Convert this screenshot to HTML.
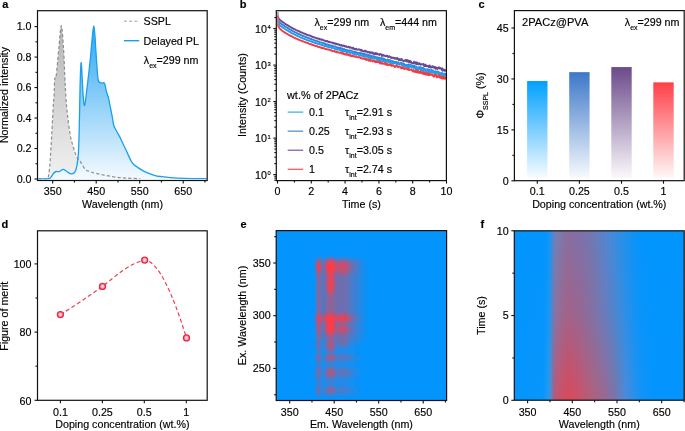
<!DOCTYPE html>
<html><head><meta charset="utf-8"><title>Figure</title>
<style>
html,body{margin:0;padding:0;background:#fff;width:685px;height:431px;overflow:hidden;}
svg{display:block;will-change:transform;font-family:"Liberation Sans", sans-serif;fill:#111;}
text{fill:#000;stroke:#000;stroke-width:0.16px;}
</style></head><body>
<svg width="685" height="431" viewBox="0 0 685 431">
<defs>
<linearGradient id="gGray" x1="0" y1="0" x2="0" y2="1"><stop offset="0" stop-color="#b4b4b4"/><stop offset="1" stop-color="#f2f2f2"/></linearGradient>
<linearGradient id="gBlue" x1="0" y1="0" x2="0" y2="1"><stop offset="0" stop-color="#2aa6f2"/><stop offset="1" stop-color="#f4faff"/></linearGradient>
<clipPath id="clipA"><rect x="38" y="11" width="169" height="168.5"/></clipPath>
</defs>
<g clip-path="url(#clipA)">
<path d="M38.20,179.00 C39.17,179.00 42.48,179.07 44.00,179.00 C45.52,178.93 46.52,179.27 47.30,178.60 C48.08,177.93 48.23,177.82 48.70,175.00 C49.17,172.18 49.60,168.30 50.10,161.70 C50.60,155.10 51.17,144.85 51.70,135.40 C52.23,125.95 52.90,111.73 53.30,105.00 C53.70,98.27 53.88,99.17 54.10,95.00 C54.32,90.83 54.38,82.92 54.60,80.00 C54.82,77.08 55.12,78.33 55.40,77.50 C55.68,76.67 55.72,79.95 56.30,75.00 C56.88,70.05 58.07,56.03 58.90,47.80 C59.73,39.57 60.53,25.60 61.30,25.60 C62.07,25.60 62.92,39.47 63.50,47.80 C64.08,56.13 64.40,67.40 64.80,75.60 C65.20,83.80 65.45,90.43 65.90,97.00 C66.35,103.57 66.77,108.60 67.50,115.00 C68.23,121.40 69.38,130.23 70.30,135.40 C71.22,140.57 72.15,142.97 73.00,146.00 C73.85,149.03 74.50,151.33 75.40,153.60 C76.30,155.87 77.43,158.07 78.40,159.60 C79.37,161.13 80.07,161.17 81.20,162.80 C82.33,164.43 83.73,167.93 85.20,169.40 C86.67,170.87 88.03,170.90 90.00,171.60 C91.97,172.30 94.40,172.97 97.00,173.60 C99.60,174.23 102.60,174.83 105.60,175.40 C108.60,175.97 111.60,176.55 115.00,177.00 C118.40,177.45 121.80,177.82 126.00,178.10 C130.20,178.38 137.83,178.60 140.20,178.70 L140.2,179 Z" fill="url(#gGray)" stroke="none"/>
<path d="M38.20,179.00 C40.02,178.93 46.95,178.97 49.10,178.60 C51.25,178.23 50.27,177.77 51.10,176.80 C51.93,175.83 53.25,173.68 54.10,172.80 C54.95,171.92 55.35,171.70 56.20,171.50 C57.05,171.30 58.03,171.97 59.20,171.60 C60.37,171.23 62.02,169.37 63.20,169.30 C64.38,169.23 65.12,170.48 66.30,171.20 C67.48,171.92 69.13,173.23 70.30,173.60 C71.47,173.97 72.45,173.83 73.30,173.40 C74.15,172.97 74.78,172.40 75.40,171.00 C76.02,169.60 76.50,167.90 77.00,165.00 C77.50,162.10 78.03,159.43 78.40,153.60 C78.77,147.77 78.93,140.60 79.20,130.00 C79.47,119.40 79.77,100.00 80.00,90.00 C80.23,80.00 80.38,74.53 80.60,70.00 C80.82,65.47 81.03,61.47 81.30,62.80 C81.57,64.13 81.88,72.47 82.20,78.00 C82.52,83.53 82.83,91.40 83.20,96.00 C83.57,100.60 84.00,104.93 84.40,105.60 C84.80,106.27 85.17,102.93 85.60,100.00 C86.03,97.07 86.47,92.50 87.00,88.00 C87.53,83.50 88.22,78.17 88.80,73.00 C89.38,67.83 89.88,63.33 90.50,57.00 C91.12,50.67 91.95,40.20 92.50,35.00 C93.05,29.80 93.40,25.80 93.80,25.80 C94.20,25.80 94.55,30.75 94.90,35.00 C95.25,39.25 95.52,45.47 95.90,51.30 C96.28,57.13 96.82,65.22 97.20,70.00 C97.58,74.78 97.73,77.90 98.20,80.00 C98.67,82.10 99.28,82.07 100.00,82.60 C100.72,83.13 101.83,83.17 102.50,83.20 C103.17,83.23 103.55,82.42 104.00,82.80 C104.45,83.18 104.78,83.97 105.20,85.50 C105.62,87.03 105.97,90.00 106.50,92.00 C107.03,94.00 107.73,94.83 108.40,97.50 C109.07,100.17 109.82,104.58 110.50,108.00 C111.18,111.42 111.97,115.12 112.50,118.00 C113.03,120.88 113.00,123.08 113.70,125.30 C114.40,127.52 115.65,129.28 116.70,131.30 C117.75,133.32 118.45,134.28 120.00,137.40 C121.55,140.52 123.98,145.80 126.00,150.00 C128.02,154.20 130.10,159.67 132.10,162.60 C134.10,165.53 135.98,166.15 138.00,167.60 C140.02,169.05 141.48,170.02 144.20,171.30 C146.92,172.58 151.33,174.40 154.30,175.30 C157.27,176.20 159.32,176.32 162.00,176.70 C164.68,177.08 166.57,177.33 170.40,177.60 C174.23,177.87 178.98,178.13 185.00,178.30 C191.02,178.47 202.92,178.55 206.50,178.60 L206.5,179 L38.2,179 Z" fill="url(#gBlue)" stroke="none"/>
<path d="M38.20,179.00 C39.17,179.00 42.48,179.07 44.00,179.00 C45.52,178.93 46.52,179.27 47.30,178.60 C48.08,177.93 48.23,177.82 48.70,175.00 C49.17,172.18 49.60,168.30 50.10,161.70 C50.60,155.10 51.17,144.85 51.70,135.40 C52.23,125.95 52.90,111.73 53.30,105.00 C53.70,98.27 53.88,99.17 54.10,95.00 C54.32,90.83 54.38,82.92 54.60,80.00 C54.82,77.08 55.12,78.33 55.40,77.50 C55.68,76.67 55.72,79.95 56.30,75.00 C56.88,70.05 58.07,56.03 58.90,47.80 C59.73,39.57 60.53,25.60 61.30,25.60 C62.07,25.60 62.92,39.47 63.50,47.80 C64.08,56.13 64.40,67.40 64.80,75.60 C65.20,83.80 65.45,90.43 65.90,97.00 C66.35,103.57 66.77,108.60 67.50,115.00 C68.23,121.40 69.38,130.23 70.30,135.40 C71.22,140.57 72.15,142.97 73.00,146.00 C73.85,149.03 74.50,151.33 75.40,153.60 C76.30,155.87 77.43,158.07 78.40,159.60 C79.37,161.13 80.07,161.17 81.20,162.80 C82.33,164.43 83.73,167.93 85.20,169.40 C86.67,170.87 88.03,170.90 90.00,171.60 C91.97,172.30 94.40,172.97 97.00,173.60 C99.60,174.23 102.60,174.83 105.60,175.40 C108.60,175.97 111.60,176.55 115.00,177.00 C118.40,177.45 121.80,177.82 126.00,178.10 C130.20,178.38 137.83,178.60 140.20,178.70" fill="none" stroke="#8e8e8e" stroke-width="1.2" stroke-dasharray="3.2,2.2"/>
<path d="M38.20,179.00 C40.02,178.93 46.95,178.97 49.10,178.60 C51.25,178.23 50.27,177.77 51.10,176.80 C51.93,175.83 53.25,173.68 54.10,172.80 C54.95,171.92 55.35,171.70 56.20,171.50 C57.05,171.30 58.03,171.97 59.20,171.60 C60.37,171.23 62.02,169.37 63.20,169.30 C64.38,169.23 65.12,170.48 66.30,171.20 C67.48,171.92 69.13,173.23 70.30,173.60 C71.47,173.97 72.45,173.83 73.30,173.40 C74.15,172.97 74.78,172.40 75.40,171.00 C76.02,169.60 76.50,167.90 77.00,165.00 C77.50,162.10 78.03,159.43 78.40,153.60 C78.77,147.77 78.93,140.60 79.20,130.00 C79.47,119.40 79.77,100.00 80.00,90.00 C80.23,80.00 80.38,74.53 80.60,70.00 C80.82,65.47 81.03,61.47 81.30,62.80 C81.57,64.13 81.88,72.47 82.20,78.00 C82.52,83.53 82.83,91.40 83.20,96.00 C83.57,100.60 84.00,104.93 84.40,105.60 C84.80,106.27 85.17,102.93 85.60,100.00 C86.03,97.07 86.47,92.50 87.00,88.00 C87.53,83.50 88.22,78.17 88.80,73.00 C89.38,67.83 89.88,63.33 90.50,57.00 C91.12,50.67 91.95,40.20 92.50,35.00 C93.05,29.80 93.40,25.80 93.80,25.80 C94.20,25.80 94.55,30.75 94.90,35.00 C95.25,39.25 95.52,45.47 95.90,51.30 C96.28,57.13 96.82,65.22 97.20,70.00 C97.58,74.78 97.73,77.90 98.20,80.00 C98.67,82.10 99.28,82.07 100.00,82.60 C100.72,83.13 101.83,83.17 102.50,83.20 C103.17,83.23 103.55,82.42 104.00,82.80 C104.45,83.18 104.78,83.97 105.20,85.50 C105.62,87.03 105.97,90.00 106.50,92.00 C107.03,94.00 107.73,94.83 108.40,97.50 C109.07,100.17 109.82,104.58 110.50,108.00 C111.18,111.42 111.97,115.12 112.50,118.00 C113.03,120.88 113.00,123.08 113.70,125.30 C114.40,127.52 115.65,129.28 116.70,131.30 C117.75,133.32 118.45,134.28 120.00,137.40 C121.55,140.52 123.98,145.80 126.00,150.00 C128.02,154.20 130.10,159.67 132.10,162.60 C134.10,165.53 135.98,166.15 138.00,167.60 C140.02,169.05 141.48,170.02 144.20,171.30 C146.92,172.58 151.33,174.40 154.30,175.30 C157.27,176.20 159.32,176.32 162.00,176.70 C164.68,177.08 166.57,177.33 170.40,177.60 C174.23,177.87 178.98,178.13 185.00,178.30 C191.02,178.47 202.92,178.55 206.50,178.60" fill="none" stroke="#18a0f0" stroke-width="1.3" stroke-linejoin="round"/>
</g>
<rect x="37.5" y="10.7" width="169.70" height="169.80" fill="none" stroke="#111" stroke-width="1.2"/>
<line x1="34.50" y1="179.00" x2="37.50" y2="179.00" stroke="#111" stroke-width="1.1"/>
<line x1="34.50" y1="148.52" x2="37.50" y2="148.52" stroke="#111" stroke-width="1.1"/>
<line x1="34.50" y1="118.04" x2="37.50" y2="118.04" stroke="#111" stroke-width="1.1"/>
<line x1="34.50" y1="87.56" x2="37.50" y2="87.56" stroke="#111" stroke-width="1.1"/>
<line x1="34.50" y1="57.08" x2="37.50" y2="57.08" stroke="#111" stroke-width="1.1"/>
<line x1="34.50" y1="26.60" x2="37.50" y2="26.60" stroke="#111" stroke-width="1.1"/>
<line x1="35.50" y1="163.76" x2="37.50" y2="163.76" stroke="#111" stroke-width="1.1"/>
<line x1="35.50" y1="133.28" x2="37.50" y2="133.28" stroke="#111" stroke-width="1.1"/>
<line x1="35.50" y1="102.80" x2="37.50" y2="102.80" stroke="#111" stroke-width="1.1"/>
<line x1="35.50" y1="72.32" x2="37.50" y2="72.32" stroke="#111" stroke-width="1.1"/>
<line x1="35.50" y1="41.84" x2="37.50" y2="41.84" stroke="#111" stroke-width="1.1"/>
<line x1="52.70" y1="180.50" x2="52.70" y2="183.50" stroke="#111" stroke-width="1.1"/>
<line x1="96.20" y1="180.50" x2="96.20" y2="183.50" stroke="#111" stroke-width="1.1"/>
<line x1="139.70" y1="180.50" x2="139.70" y2="183.50" stroke="#111" stroke-width="1.1"/>
<line x1="183.20" y1="180.50" x2="183.20" y2="183.50" stroke="#111" stroke-width="1.1"/>
<line x1="74.45" y1="180.50" x2="74.45" y2="182.50" stroke="#111" stroke-width="1.1"/>
<line x1="117.95" y1="180.50" x2="117.95" y2="182.50" stroke="#111" stroke-width="1.1"/>
<line x1="161.45" y1="180.50" x2="161.45" y2="182.50" stroke="#111" stroke-width="1.1"/>
<line x1="204.95" y1="180.50" x2="204.95" y2="182.50" stroke="#111" stroke-width="1.1"/>
<text x="31.50" y="182.70" font-size="10.7" text-anchor="end" >0.0</text>
<text x="31.50" y="152.22" font-size="10.7" text-anchor="end" >0.2</text>
<text x="31.50" y="121.74" font-size="10.7" text-anchor="end" >0.4</text>
<text x="31.50" y="91.26" font-size="10.7" text-anchor="end" >0.6</text>
<text x="31.50" y="60.78" font-size="10.7" text-anchor="end" >0.8</text>
<text x="31.50" y="30.30" font-size="10.7" text-anchor="end" >1.0</text>
<text x="52.70" y="195.10" font-size="10.7" text-anchor="middle" >350</text>
<text x="96.20" y="195.10" font-size="10.7" text-anchor="middle" >450</text>
<text x="139.70" y="195.10" font-size="10.7" text-anchor="middle" >550</text>
<text x="183.20" y="195.10" font-size="10.7" text-anchor="middle" >650</text>
<text x="122.50" y="208.20" font-size="10.7" text-anchor="middle" >Wavelength (nm)</text>
<text transform="translate(7.70,95.00) rotate(-90)" font-size="10.7" text-anchor="middle">Normalized intensity</text>
<line x1="123.9" y1="21.2" x2="139" y2="21.2" stroke="#a0a0a0" stroke-width="1.0" stroke-dasharray="3,2.2"/>
<text x="143.60" y="25.20" font-size="10.7" text-anchor="start" >SSPL</text>
<line x1="123.9" y1="40.7" x2="139.2" y2="40.7" stroke="#18a0f0" stroke-width="1.4"/>
<text x="143.60" y="44.70" font-size="10.7" text-anchor="start" >Delayed PL</text>
<text x="143.8" y="64" font-size="10.7">λ<tspan font-size="7" dy="3.6">ex</tspan><tspan dy="-3.6">=299 nm</tspan></text>
<text x="2.3" y="8" font-size="11" font-weight="bold">a</text>
<clipPath id="clipB"><rect x="277" y="11.3" width="169" height="168"/></clipPath>
<g clip-path="url(#clipB)">
<path d="M278.00,16.20 L278.15,17.30 L278.35,17.90 L278.60,18.14 L278.80,18.88 L279.00,19.11 L279.20,19.35 L279.40,19.52 L279.60,19.55 L279.80,19.70 L280.00,20.05 L280.20,20.07 L280.40,20.22 L280.60,20.56 L280.80,20.59 L281.00,20.83 L281.20,20.89 L281.40,21.08 L281.60,21.12 L281.80,21.38 L282.00,21.59 L282.20,21.65 L282.40,21.85 L282.60,21.98 L282.80,21.98 L283.00,22.29 L283.20,22.39 L283.40,22.46 L283.60,22.54 L283.80,22.88 L284.00,22.92 L284.20,23.12 L284.40,23.29 L284.60,23.39 L284.80,23.57 L285.00,23.58 L285.20,23.81 L285.65,24.03 L286.10,24.44 L286.55,24.71 L287.00,24.81 L287.45,25.10 L287.90,25.40 L288.35,25.86 L288.80,26.00 L289.25,26.31 L289.70,26.50 L290.15,26.81 L290.60,27.04 L291.05,27.28 L291.50,27.59 L291.95,27.84 L292.40,28.16 L292.85,28.35 L293.30,28.65 L293.75,28.87 L294.20,29.13 L294.65,29.29 L295.10,29.39 L295.55,29.78 L296.00,30.03 L296.45,30.24 L296.90,30.38 L297.35,30.63 L297.80,30.72 L298.25,31.08 L298.70,31.22 L299.15,31.36 L299.60,31.51 L300.05,31.90 L300.50,32.14 L300.95,32.11 L301.40,32.49 L301.85,32.58 L302.30,32.70 L302.75,32.93 L303.20,33.26 L303.65,33.48 L304.10,33.41 L304.55,33.77 L305.00,33.77 L305.45,34.17 L305.90,34.21 L306.35,34.58 L306.80,34.79 L307.25,34.80 L307.70,35.15 L308.15,35.07 L308.60,35.15 L309.05,35.52 L309.50,35.46 L309.95,35.69 L310.40,35.94 L310.85,36.18 L311.30,36.15 L311.75,36.26 L312.20,36.78 L312.65,36.69 L313.10,37.15 L313.55,37.28 L314.00,37.18 L314.45,37.38 L314.90,37.56 L315.35,37.77 L315.80,37.90 L316.25,38.03 L316.70,38.21 L317.15,38.53 L317.60,38.45 L318.05,38.55 L318.50,38.86 L318.95,38.73 L319.40,38.91 L319.85,39.44 L320.30,39.32 L320.75,39.48 L321.20,39.29 L321.65,39.67 L322.10,39.91 L322.55,39.70 L323.00,40.21 L323.45,40.36 L323.90,40.13 L324.35,40.63 L324.80,40.66 L325.25,40.94 L325.70,40.85 L326.15,41.22 L326.60,41.38 L327.05,41.01 L327.50,41.16 L327.95,41.73 L328.40,42.07 L328.85,41.68 L329.30,41.96 L329.75,42.19 L330.20,42.11 L330.65,42.27 L331.10,42.36 L331.55,42.53 L332.00,42.83 L332.45,42.72 L332.90,42.90 L333.35,43.35 L333.80,42.86 L334.25,43.43 L334.70,43.69 L335.15,43.46 L335.60,43.51 L336.05,44.13 L336.50,43.76 L336.95,43.83 L337.40,44.17 L337.85,44.52 L338.30,44.11 L338.75,44.43 L339.20,44.56 L339.65,45.13 L340.10,44.89 L340.55,45.40 L341.00,44.87 L341.45,45.15 L341.90,45.56 L342.35,45.91 L342.80,45.61 L343.25,45.50 L343.70,45.51 L344.15,46.03 L344.60,45.81 L345.05,46.54 L345.50,46.69 L345.95,46.14 L346.40,46.35 L346.85,47.02 L347.30,46.96 L347.75,47.25 L348.20,46.87 L348.65,46.75 L349.10,47.04 L349.55,47.70 L350.00,47.24 L350.45,47.44 L350.90,47.63 L351.35,47.74 L351.80,47.84 L352.25,48.53 L352.70,47.78 L353.15,47.71 L353.60,48.91 L354.05,48.95 L354.50,49.19 L354.95,48.65 L355.40,49.37 L355.85,49.46 L356.30,48.73 L356.75,49.47 L357.20,49.69 L357.65,49.59 L358.10,49.53 L358.55,49.35 L359.00,49.52 L359.45,49.49 L359.90,49.40 L360.35,50.17 L360.80,49.89 L361.25,50.67 L361.70,49.79 L362.15,51.02 L362.60,50.86 L363.05,51.27 L363.50,51.35 L363.95,51.46 L364.40,51.14 L364.85,50.49 L365.30,51.59 L365.75,50.91 L366.20,51.20 L366.65,51.80 L367.10,51.72 L367.55,51.68 L368.00,52.52 L368.45,52.17 L368.90,51.89 L369.35,51.87 L369.80,52.86 L370.25,52.41 L370.70,52.96 L371.15,52.44 L371.60,52.32 L372.05,52.92 L372.50,53.45 L372.95,52.60 L373.40,53.63 L373.85,53.94 L374.30,53.87 L374.75,54.01 L375.20,52.87 L375.65,53.93 L376.10,54.40 L376.55,53.25 L377.00,53.69 L377.45,53.79 L377.90,54.31 L378.35,54.25 L378.80,54.43 L379.25,55.03 L379.70,53.89 L380.15,54.08 L380.60,54.30 L381.05,54.40 L381.50,54.41 L381.95,56.00 L382.40,55.91 L382.85,54.75 L383.30,55.54 L383.75,55.34 L384.20,55.44 L384.65,55.61 L385.10,56.21 L385.55,56.22 L386.00,55.94 L386.45,55.75 L386.90,56.09 L387.35,55.84 L387.80,56.70 L388.25,57.08 L388.70,56.60 L389.15,56.17 L389.60,56.45 L390.05,56.90 L390.50,57.42 L390.95,57.85 L391.40,57.23 L391.85,58.10 L392.30,57.88 L392.75,57.64 L393.20,57.63 L393.65,57.96 L394.10,58.45 L394.55,58.03 L395.00,58.65 L395.45,58.32 L395.90,58.02 L396.35,58.67 L396.80,59.08 L397.25,58.00 L397.70,58.77 L398.15,58.88 L398.60,59.86 L399.05,60.08 L399.50,59.09 L399.95,60.22 L400.40,60.12 L400.85,59.19 L401.30,59.69 L401.75,59.12 L402.20,60.59 L402.65,60.40 L403.10,60.96 L403.55,60.87 L404.00,60.73 L404.45,60.97 L404.90,60.73 L405.35,59.89 L405.80,60.99 L406.25,59.89 L406.70,60.28 L407.15,61.69 L407.60,60.28 L408.05,60.48 L408.50,60.60 L408.95,62.34 L409.40,60.97 L409.85,60.74 L410.30,62.58 L410.75,61.15 L411.20,62.80 L411.65,62.54 L412.10,63.00 L412.55,63.36 L413.00,62.66 L413.45,63.24 L413.90,61.68 L414.35,63.39 L414.80,62.93 L415.25,63.48 L415.70,62.24 L416.15,63.77 L416.60,64.29 L417.05,62.44 L417.50,63.13 L417.95,63.78 L418.40,64.48 L418.85,63.26 L419.30,63.22 L419.75,63.48 L420.20,64.42 L420.65,64.85 L421.10,64.12 L421.55,64.16 L422.00,64.34 L422.45,64.33 L422.90,64.59 L423.35,63.91 L423.80,64.99 L424.25,66.22 L424.70,65.00 L425.15,65.90 L425.60,64.60 L426.05,65.97 L426.50,66.24 L426.95,66.15 L427.40,65.87 L427.85,65.89 L428.30,66.39 L428.75,67.12 L429.20,65.39 L429.65,65.36 L430.10,67.07 L430.55,67.59 L431.00,66.71 L431.45,66.63 L431.90,67.42 L432.35,66.19 L432.80,66.50 L433.25,66.43 L433.70,67.51 L434.15,66.93 L434.60,66.82 L435.05,68.09 L435.50,68.87 L435.95,67.29 L436.40,68.45 L436.85,67.80 L437.30,69.04 L437.75,68.45 L438.20,67.73 L438.65,67.70 L439.10,67.29 L439.55,68.59 L440.00,68.44 L440.45,67.99 L440.90,68.59 L441.35,68.59 L441.80,69.90 L442.25,68.32 L442.70,70.70 L443.15,69.43 L443.60,69.85 L444.05,69.61 L444.50,70.70 L444.95,70.77 L445.40,70.16 L445.85,70.06 L446.30,70.81 L446.75,71.28" fill="none" stroke="#6b4a95" stroke-width="1.9" stroke-linejoin="round" stroke-linecap="round"/>
<path d="M278.00,19.50 L278.15,20.60 L278.35,21.20 L278.60,21.48 L278.80,21.82 L279.00,22.07 L279.20,22.12 L279.40,22.22 L279.60,22.38 L279.80,22.66 L280.00,22.80 L280.20,23.03 L280.40,23.15 L280.60,23.16 L280.80,23.30 L281.00,23.47 L281.20,23.60 L281.40,23.87 L281.60,24.06 L281.80,24.22 L282.00,24.21 L282.20,24.50 L282.40,24.51 L282.60,24.68 L282.80,24.90 L283.00,24.89 L283.20,25.03 L283.40,25.35 L283.60,25.36 L283.80,25.51 L284.00,25.70 L284.20,25.86 L284.40,25.84 L284.60,26.05 L284.80,26.21 L285.00,26.36 L285.20,26.43 L285.65,26.81 L286.10,27.19 L286.55,27.35 L287.00,27.67 L287.45,27.85 L287.90,28.16 L288.35,28.53 L288.80,28.67 L289.25,29.12 L289.70,29.39 L290.15,29.46 L290.60,29.92 L291.05,30.04 L291.50,30.39 L291.95,30.63 L292.40,30.77 L292.85,31.10 L293.30,31.34 L293.75,31.61 L294.20,31.72 L294.65,32.07 L295.10,32.35 L295.55,32.51 L296.00,32.70 L296.45,32.82 L296.90,33.13 L297.35,33.32 L297.80,33.62 L298.25,33.83 L298.70,34.01 L299.15,34.13 L299.60,34.45 L300.05,34.65 L300.50,34.74 L300.95,35.12 L301.40,35.26 L301.85,35.32 L302.30,35.74 L302.75,35.71 L303.20,35.95 L303.65,36.26 L304.10,36.41 L304.55,36.59 L305.00,36.80 L305.45,36.92 L305.90,37.06 L306.35,37.19 L306.80,37.33 L307.25,37.74 L307.70,37.93 L308.15,38.03 L308.60,38.28 L309.05,38.30 L309.50,38.43 L309.95,38.65 L310.40,39.02 L310.85,38.84 L311.30,39.20 L311.75,39.25 L312.20,39.65 L312.65,39.63 L313.10,39.78 L313.55,39.97 L314.00,40.19 L314.45,40.47 L314.90,40.42 L315.35,40.82 L315.80,40.60 L316.25,40.84 L316.70,40.90 L317.15,41.06 L317.60,41.57 L318.05,41.69 L318.50,41.54 L318.95,41.69 L319.40,41.97 L319.85,42.30 L320.30,42.49 L320.75,42.60 L321.20,42.66 L321.65,42.53 L322.10,42.83 L322.55,42.84 L323.00,43.19 L323.45,43.36 L323.90,43.26 L324.35,43.43 L324.80,43.92 L325.25,43.56 L325.70,44.22 L326.15,44.42 L326.60,44.60 L327.05,44.34 L327.50,44.60 L327.95,44.76 L328.40,44.93 L328.85,45.32 L329.30,45.24 L329.75,45.08 L330.20,45.64 L330.65,45.49 L331.10,45.71 L331.55,45.94 L332.00,45.50 L332.45,46.24 L332.90,46.28 L333.35,46.28 L333.80,46.43 L334.25,46.51 L334.70,46.41 L335.15,46.82 L335.60,46.53 L336.05,47.05 L336.50,47.31 L336.95,47.26 L337.40,47.49 L337.85,47.97 L338.30,48.03 L338.75,47.48 L339.20,48.20 L339.65,48.17 L340.10,47.76 L340.55,48.17 L341.00,48.18 L341.45,48.15 L341.90,48.71 L342.35,49.21 L342.80,48.75 L343.25,49.40 L343.70,49.36 L344.15,48.92 L344.60,49.77 L345.05,49.63 L345.50,50.08 L345.95,49.99 L346.40,50.14 L346.85,49.84 L347.30,50.45 L347.75,50.70 L348.20,50.75 L348.65,50.42 L349.10,50.88 L349.55,50.71 L350.00,50.41 L350.45,50.45 L350.90,50.61 L351.35,50.86 L351.80,50.93 L352.25,51.43 L352.70,51.78 L353.15,51.71 L353.60,51.69 L354.05,52.07 L354.50,51.79 L354.95,52.09 L355.40,52.55 L355.85,52.25 L356.30,52.10 L356.75,53.08 L357.20,52.98 L357.65,52.67 L358.10,52.78 L358.55,53.10 L359.00,53.30 L359.45,52.94 L359.90,52.77 L360.35,53.15 L360.80,54.00 L361.25,53.29 L361.70,53.81 L362.15,53.58 L362.60,53.71 L363.05,53.77 L363.50,54.19 L363.95,53.99 L364.40,53.91 L364.85,54.13 L365.30,54.32 L365.75,54.88 L366.20,54.40 L366.65,54.45 L367.10,55.16 L367.55,55.21 L368.00,55.74 L368.45,54.93 L368.90,55.54 L369.35,55.65 L369.80,55.23 L370.25,56.69 L370.70,55.72 L371.15,55.65 L371.60,56.32 L372.05,55.97 L372.50,56.76 L372.95,56.46 L373.40,56.24 L373.85,56.24 L374.30,57.37 L374.75,56.80 L375.20,57.69 L375.65,57.31 L376.10,58.15 L376.55,57.28 L377.00,57.31 L377.45,57.44 L377.90,58.42 L378.35,58.24 L378.80,57.90 L379.25,57.61 L379.70,58.66 L380.15,59.24 L380.60,58.74 L381.05,57.89 L381.50,58.04 L381.95,58.25 L382.40,58.49 L382.85,58.38 L383.30,58.51 L383.75,59.63 L384.20,60.15 L384.65,59.08 L385.10,60.51 L385.55,59.77 L386.00,60.44 L386.45,60.75 L386.90,60.90 L387.35,59.44 L387.80,60.02 L388.25,60.66 L388.70,61.37 L389.15,59.97 L389.60,60.44 L390.05,61.54 L390.50,60.34 L390.95,60.94 L391.40,60.95 L391.85,61.68 L392.30,62.25 L392.75,60.98 L393.20,62.13 L393.65,62.23 L394.10,62.53 L394.55,62.12 L395.00,62.92 L395.45,61.98 L395.90,62.19 L396.35,61.95 L396.80,63.10 L397.25,62.64 L397.70,62.35 L398.15,62.26 L398.60,63.43 L399.05,63.32 L399.50,63.64 L399.95,63.12 L400.40,63.42 L400.85,62.88 L401.30,64.08 L401.75,62.83 L402.20,63.82 L402.65,64.51 L403.10,64.46 L403.55,63.40 L404.00,63.79 L404.45,65.13 L404.90,64.84 L405.35,65.43 L405.80,65.53 L406.25,64.77 L406.70,65.80 L407.15,65.58 L407.60,64.86 L408.05,65.04 L408.50,64.52 L408.95,65.32 L409.40,66.60 L409.85,64.91 L410.30,66.01 L410.75,65.14 L411.20,65.18 L411.65,66.51 L412.10,65.74 L412.55,65.43 L413.00,65.76 L413.45,66.94 L413.90,66.92 L414.35,65.77 L414.80,66.36 L415.25,68.10 L415.70,66.55 L416.15,67.42 L416.60,67.21 L417.05,68.13 L417.50,67.84 L417.95,68.37 L418.40,67.91 L418.85,67.23 L419.30,67.31 L419.75,67.19 L420.20,69.01 L420.65,67.48 L421.10,67.38 L421.55,69.68 L422.00,68.00 L422.45,69.73 L422.90,67.95 L423.35,68.95 L423.80,68.48 L424.25,70.03 L424.70,69.63 L425.15,69.80 L425.60,70.20 L426.05,70.58 L426.50,69.42 L426.95,70.15 L427.40,69.88 L427.85,69.17 L428.30,71.05 L428.75,70.57 L429.20,71.22 L429.65,69.83 L430.10,70.76 L430.55,70.69 L431.00,71.45 L431.45,69.94 L431.90,70.72 L432.35,71.17 L432.80,70.24 L433.25,71.56 L433.70,72.13 L434.15,71.45 L434.60,72.14 L435.05,72.14 L435.50,71.24 L435.95,71.70 L436.40,73.47 L436.85,71.88 L437.30,72.23 L437.75,71.44 L438.20,71.89 L438.65,71.86 L439.10,73.98 L439.55,73.55 L440.00,74.05 L440.45,74.46 L440.90,73.58 L441.35,74.54 L441.80,73.60 L442.25,73.39 L442.70,74.92 L443.15,74.91 L443.60,75.15 L444.05,74.00 L444.50,74.89 L444.95,74.01 L445.40,75.72 L445.85,75.62 L446.30,74.03 L446.75,75.87" fill="none" stroke="#3c7fd0" stroke-width="1.9" stroke-linejoin="round" stroke-linecap="round"/>
<path d="M278.00,21.50 L278.15,22.60 L278.35,23.20 L278.60,23.42 L278.80,24.22 L279.00,24.65 L279.20,24.73 L279.40,24.95 L279.60,25.14 L279.80,25.15 L280.00,25.48 L280.20,25.52 L280.40,25.71 L280.60,25.85 L280.80,26.10 L281.00,26.25 L281.20,26.29 L281.40,26.39 L281.60,26.59 L281.80,26.76 L282.00,26.83 L282.20,27.00 L282.40,27.29 L282.60,27.42 L282.80,27.62 L283.00,27.77 L283.20,27.88 L283.40,27.90 L283.60,27.99 L283.80,28.17 L284.00,28.34 L284.20,28.49 L284.40,28.63 L284.60,28.72 L284.80,28.97 L285.00,28.97 L285.20,29.15 L285.65,29.54 L286.10,29.81 L286.55,29.98 L287.00,30.25 L287.45,30.66 L287.90,30.75 L288.35,31.05 L288.80,31.41 L289.25,31.67 L289.70,31.85 L290.15,32.08 L290.60,32.37 L291.05,32.75 L291.50,32.93 L291.95,33.30 L292.40,33.49 L292.85,33.77 L293.30,33.78 L293.75,34.05 L294.20,34.24 L294.65,34.57 L295.10,34.77 L295.55,34.92 L296.00,35.26 L296.45,35.37 L296.90,35.64 L297.35,35.83 L297.80,36.18 L298.25,36.29 L298.70,36.46 L299.15,36.61 L299.60,36.90 L300.05,37.15 L300.50,37.36 L300.95,37.61 L301.40,37.78 L301.85,37.82 L302.30,37.98 L302.75,38.34 L303.20,38.54 L303.65,38.64 L304.10,38.92 L304.55,39.01 L305.00,39.10 L305.45,39.24 L305.90,39.36 L306.35,39.75 L306.80,40.02 L307.25,40.19 L307.70,40.20 L308.15,40.45 L308.60,40.71 L309.05,40.84 L309.50,40.92 L309.95,41.00 L310.40,41.21 L310.85,41.22 L311.30,41.38 L311.75,41.76 L312.20,42.05 L312.65,42.01 L313.10,42.10 L313.55,42.23 L314.00,42.43 L314.45,42.75 L314.90,42.73 L315.35,43.13 L315.80,42.87 L316.25,43.10 L316.70,43.35 L317.15,43.44 L317.60,43.82 L318.05,43.95 L318.50,44.16 L318.95,44.12 L319.40,43.93 L319.85,44.38 L320.30,44.51 L320.75,44.61 L321.20,44.62 L321.65,45.02 L322.10,45.28 L322.55,44.91 L323.00,45.40 L323.45,45.35 L323.90,45.58 L324.35,45.96 L324.80,46.14 L325.25,46.06 L325.70,45.89 L326.15,46.51 L326.60,46.13 L327.05,46.40 L327.50,46.85 L327.95,46.61 L328.40,46.70 L328.85,47.33 L329.30,47.45 L329.75,47.11 L330.20,47.29 L330.65,47.33 L331.10,47.34 L331.55,47.56 L332.00,48.25 L332.45,47.66 L332.90,47.90 L333.35,48.00 L333.80,48.02 L334.25,48.51 L334.70,48.81 L335.15,49.02 L335.60,48.96 L336.05,49.24 L336.50,48.66 L336.95,49.02 L337.40,49.74 L337.85,49.07 L338.30,49.36 L338.75,49.67 L339.20,49.59 L339.65,49.97 L340.10,49.62 L340.55,49.91 L341.00,50.71 L341.45,50.05 L341.90,50.90 L342.35,50.31 L342.80,51.22 L343.25,51.03 L343.70,51.12 L344.15,50.73 L344.60,50.75 L345.05,51.58 L345.50,51.10 L345.95,51.22 L346.40,51.99 L346.85,52.16 L347.30,51.41 L347.75,52.49 L348.20,52.15 L348.65,52.10 L349.10,51.91 L349.55,52.33 L350.00,53.10 L350.45,52.43 L350.90,52.38 L351.35,52.50 L351.80,52.59 L352.25,52.95 L352.70,53.71 L353.15,52.86 L353.60,53.10 L354.05,54.08 L354.50,54.26 L354.95,54.35 L355.40,53.59 L355.85,53.83 L356.30,54.66 L356.75,54.21 L357.20,54.58 L357.65,54.22 L358.10,53.96 L358.55,54.47 L359.00,55.09 L359.45,55.24 L359.90,55.08 L360.35,55.06 L360.80,55.26 L361.25,55.25 L361.70,55.47 L362.15,55.97 L362.60,55.25 L363.05,55.88 L363.50,56.44 L363.95,56.44 L364.40,55.65 L364.85,56.81 L365.30,56.76 L365.75,55.95 L366.20,56.19 L366.65,56.21 L367.10,56.10 L367.55,57.50 L368.00,56.81 L368.45,57.57 L368.90,56.61 L369.35,56.57 L369.80,57.90 L370.25,57.90 L370.70,58.30 L371.15,57.96 L371.60,57.83 L372.05,58.30 L372.50,57.41 L372.95,58.18 L373.40,58.14 L373.85,57.80 L374.30,58.59 L374.75,58.28 L375.20,58.66 L375.65,58.56 L376.10,58.58 L376.55,58.75 L377.00,59.23 L377.45,59.94 L377.90,59.98 L378.35,59.97 L378.80,60.03 L379.25,59.27 L379.70,60.48 L380.15,59.45 L380.60,59.31 L381.05,60.03 L381.50,60.52 L381.95,59.98 L382.40,60.59 L382.85,60.09 L383.30,61.34 L383.75,60.58 L384.20,60.73 L384.65,60.93 L385.10,61.62 L385.55,61.92 L386.00,61.24 L386.45,61.20 L386.90,61.61 L387.35,60.76 L387.80,61.48 L388.25,62.33 L388.70,62.31 L389.15,61.15 L389.60,62.66 L390.05,61.93 L390.50,63.11 L390.95,62.11 L391.40,61.94 L391.85,62.65 L392.30,63.36 L392.75,62.64 L393.20,63.55 L393.65,63.37 L394.10,62.83 L394.55,62.82 L395.00,63.30 L395.45,63.21 L395.90,63.26 L396.35,63.90 L396.80,64.43 L397.25,63.98 L397.70,63.25 L398.15,63.49 L398.60,63.88 L399.05,64.46 L399.50,63.64 L399.95,63.63 L400.40,64.20 L400.85,64.23 L401.30,63.83 L401.75,64.94 L402.20,65.81 L402.65,65.14 L403.10,65.66 L403.55,65.95 L404.00,66.07 L404.45,66.33 L404.90,65.48 L405.35,66.08 L405.80,65.03 L406.25,66.69 L406.70,65.76 L407.15,66.07 L407.60,67.04 L408.05,65.88 L408.50,65.78 L408.95,67.22 L409.40,66.85 L409.85,65.87 L410.30,65.85 L410.75,66.64 L411.20,66.00 L411.65,67.88 L412.10,66.59 L412.55,66.88 L413.00,67.24 L413.45,67.61 L413.90,67.54 L414.35,68.07 L414.80,68.25 L415.25,67.86 L415.70,67.21 L416.15,69.28 L416.60,68.74 L417.05,67.48 L417.50,68.39 L417.95,69.20 L418.40,69.85 L418.85,67.85 L419.30,67.82 L419.75,69.00 L420.20,68.97 L420.65,70.16 L421.10,70.11 L421.55,69.07 L422.00,69.37 L422.45,69.86 L422.90,70.67 L423.35,69.17 L423.80,69.72 L424.25,69.11 L424.70,70.52 L425.15,69.16 L425.60,71.44 L426.05,70.56 L426.50,70.78 L426.95,69.71 L427.40,70.16 L427.85,70.84 L428.30,71.89 L428.75,71.22 L429.20,70.70 L429.65,72.52 L430.10,71.84 L430.55,71.61 L431.00,70.91 L431.45,71.25 L431.90,72.86 L432.35,71.04 L432.80,72.14 L433.25,72.47 L433.70,71.90 L434.15,73.06 L434.60,73.52 L435.05,73.50 L435.50,73.30 L435.95,72.03 L436.40,71.76 L436.85,72.83 L437.30,72.62 L437.75,72.41 L438.20,74.28 L438.65,72.67 L439.10,74.37 L439.55,74.78 L440.00,72.73 L440.45,74.93 L440.90,73.66 L441.35,73.27 L441.80,73.31 L442.25,73.01 L442.70,74.35 L443.15,74.15 L443.60,75.51 L444.05,75.56 L444.50,73.57 L444.95,74.61 L445.40,74.68 L445.85,74.21 L446.30,74.51 L446.75,74.65" fill="none" stroke="#1f9ff0" stroke-width="1.9" stroke-linejoin="round" stroke-linecap="round"/>
<path d="M278.00,24.61 L278.15,25.71 L278.35,26.31 L278.60,26.65 L278.80,26.94 L279.00,27.23 L279.20,27.57 L279.40,27.91 L279.60,28.21 L279.80,28.38 L280.00,28.73 L280.20,28.83 L280.40,29.15 L280.60,29.34 L280.80,29.43 L281.00,29.75 L281.20,29.84 L281.40,30.05 L281.60,30.23 L281.80,30.40 L282.00,30.51 L282.20,30.57 L282.40,30.90 L282.60,31.06 L282.80,31.12 L283.00,31.28 L283.20,31.35 L283.40,31.64 L283.60,31.72 L283.80,31.74 L284.00,32.02 L284.20,32.19 L284.40,32.17 L284.60,32.45 L284.80,32.46 L285.00,32.51 L285.20,32.77 L285.65,32.96 L286.10,33.33 L286.55,33.56 L287.00,33.71 L287.45,34.08 L287.90,34.41 L288.35,34.58 L288.80,34.84 L289.25,35.17 L289.70,35.31 L290.15,35.57 L290.60,35.83 L291.05,36.12 L291.50,36.21 L291.95,36.41 L292.40,36.80 L292.85,36.97 L293.30,37.13 L293.75,37.50 L294.20,37.71 L294.65,37.84 L295.10,38.16 L295.55,38.34 L296.00,38.52 L296.45,38.62 L296.90,38.75 L297.35,39.11 L297.80,39.33 L298.25,39.43 L298.70,39.66 L299.15,39.87 L299.60,39.99 L300.05,40.28 L300.50,40.44 L300.95,40.58 L301.40,40.69 L301.85,40.99 L302.30,41.10 L302.75,41.40 L303.20,41.41 L303.65,41.65 L304.10,41.76 L304.55,42.00 L305.00,42.22 L305.45,42.24 L305.90,42.39 L306.35,42.70 L306.80,42.76 L307.25,43.03 L307.70,43.07 L308.15,43.21 L308.60,43.53 L309.05,43.84 L309.50,43.98 L309.95,44.00 L310.40,44.10 L310.85,44.12 L311.30,44.36 L311.75,44.52 L312.20,44.96 L312.65,44.73 L313.10,45.26 L313.55,45.19 L314.00,45.32 L314.45,45.38 L314.90,45.87 L315.35,45.63 L315.80,45.97 L316.25,46.08 L316.70,46.06 L317.15,46.21 L317.60,46.76 L318.05,46.80 L318.50,46.91 L318.95,47.14 L319.40,46.82 L319.85,47.31 L320.30,47.47 L320.75,47.30 L321.20,47.57 L321.65,48.02 L322.10,47.76 L322.55,48.16 L323.00,47.92 L323.45,48.37 L323.90,48.24 L324.35,48.53 L324.80,48.57 L325.25,49.03 L325.70,49.08 L326.15,49.04 L326.60,49.30 L327.05,49.25 L327.50,49.64 L327.95,49.38 L328.40,49.71 L328.85,49.87 L329.30,49.85 L329.75,49.71 L330.20,49.93 L330.65,50.41 L331.10,50.20 L331.55,50.75 L332.00,50.68 L332.45,51.15 L332.90,51.20 L333.35,51.22 L333.80,51.05 L334.25,50.90 L334.70,51.45 L335.15,51.73 L335.60,52.00 L336.05,51.51 L336.50,51.58 L336.95,52.42 L337.40,52.33 L337.85,52.22 L338.30,52.57 L338.75,52.16 L339.20,52.63 L339.65,52.86 L340.10,52.92 L340.55,52.63 L341.00,52.72 L341.45,53.29 L341.90,53.66 L342.35,53.06 L342.80,53.04 L343.25,53.23 L343.70,54.04 L344.15,53.76 L344.60,53.94 L345.05,54.60 L345.50,54.33 L345.95,54.08 L346.40,54.65 L346.85,54.04 L347.30,54.44 L347.75,54.99 L348.20,54.55 L348.65,54.51 L349.10,55.14 L349.55,55.05 L350.00,55.87 L350.45,55.02 L350.90,55.91 L351.35,55.56 L351.80,56.14 L352.25,55.85 L352.70,56.21 L353.15,55.94 L353.60,55.93 L354.05,56.30 L354.50,56.82 L354.95,56.40 L355.40,56.37 L355.85,56.70 L356.30,56.43 L356.75,56.80 L357.20,57.22 L357.65,57.30 L358.10,57.48 L358.55,57.21 L359.00,56.98 L359.45,57.09 L359.90,57.59 L360.35,57.52 L360.80,58.11 L361.25,57.83 L361.70,58.58 L362.15,58.48 L362.60,58.67 L363.05,58.88 L363.50,58.70 L363.95,58.69 L364.40,58.64 L364.85,58.41 L365.30,59.51 L365.75,59.22 L366.20,58.78 L366.65,60.03 L367.10,59.66 L367.55,59.83 L368.00,59.68 L368.45,59.35 L368.90,60.69 L369.35,59.62 L369.80,60.01 L370.25,61.03 L370.70,59.87 L371.15,60.53 L371.60,60.60 L372.05,60.37 L372.50,61.48 L372.95,60.83 L373.40,60.34 L373.85,61.14 L374.30,60.53 L374.75,61.71 L375.20,62.06 L375.65,62.23 L376.10,61.02 L376.55,62.09 L377.00,61.63 L377.45,61.99 L377.90,61.83 L378.35,61.94 L378.80,61.78 L379.25,62.67 L379.70,61.91 L380.15,63.43 L380.60,62.05 L381.05,63.65 L381.50,62.50 L381.95,62.43 L382.40,63.62 L382.85,63.38 L383.30,63.88 L383.75,63.56 L384.20,63.87 L384.65,63.05 L385.10,64.16 L385.55,63.99 L386.00,64.87 L386.45,63.33 L386.90,63.54 L387.35,64.70 L387.80,65.25 L388.25,64.47 L388.70,65.09 L389.15,64.93 L389.60,64.74 L390.05,64.98 L390.50,65.33 L390.95,64.41 L391.40,65.01 L391.85,65.90 L392.30,65.13 L392.75,65.63 L393.20,65.34 L393.65,65.63 L394.10,66.28 L394.55,66.56 L395.00,67.07 L395.45,66.28 L395.90,65.87 L396.35,66.23 L396.80,65.80 L397.25,66.25 L397.70,67.02 L398.15,67.17 L398.60,66.57 L399.05,66.56 L399.50,66.50 L399.95,66.76 L400.40,67.50 L400.85,67.12 L401.30,68.46 L401.75,67.94 L402.20,67.60 L402.65,67.89 L403.10,67.21 L403.55,68.71 L404.00,68.85 L404.45,68.17 L404.90,69.02 L405.35,68.20 L405.80,68.19 L406.25,68.32 L406.70,68.35 L407.15,69.31 L407.60,69.49 L408.05,69.78 L408.50,68.58 L408.95,70.07 L409.40,69.57 L409.85,69.47 L410.30,69.84 L410.75,69.79 L411.20,69.40 L411.65,69.92 L412.10,70.57 L412.55,70.83 L413.00,71.37 L413.45,69.91 L413.90,71.54 L414.35,71.45 L414.80,71.36 L415.25,72.06 L415.70,70.30 L416.15,71.83 L416.60,72.21 L417.05,70.58 L417.50,71.75 L417.95,72.65 L418.40,71.27 L418.85,72.66 L419.30,72.88 L419.75,71.91 L420.20,71.35 L420.65,71.62 L421.10,73.14 L421.55,72.31 L422.00,72.16 L422.45,72.57 L422.90,73.81 L423.35,72.33 L423.80,71.88 L424.25,74.19 L424.70,72.79 L425.15,73.06 L425.60,74.58 L426.05,73.02 L426.50,72.66 L426.95,74.70 L427.40,73.25 L427.85,73.30 L428.30,75.15 L428.75,73.52 L429.20,75.27 L429.65,73.99 L430.10,74.02 L430.55,73.90 L431.00,74.82 L431.45,74.97 L431.90,74.67 L432.35,75.05 L432.80,74.63 L433.25,76.10 L433.70,76.45 L434.15,76.10 L434.60,76.38 L435.05,74.57 L435.50,75.13 L435.95,75.12 L436.40,75.10 L436.85,77.30 L437.30,77.25 L437.75,77.38 L438.20,76.56 L438.65,75.51 L439.10,76.43 L439.55,75.56 L440.00,77.90 L440.45,76.32 L440.90,76.48 L441.35,78.34 L441.80,76.46 L442.25,78.50 L442.70,76.96 L443.15,78.02 L443.60,76.62 L444.05,78.86 L444.50,77.62 L444.95,77.58 L445.40,78.52 L445.85,78.46 L446.30,77.65 L446.75,77.41" fill="none" stroke="#f23c44" stroke-width="1.9" stroke-linejoin="round" stroke-linecap="round"/>
<line x1="278.0" y1="12.4" x2="278.0" y2="26.5" stroke="#f26a76" stroke-width="1.4"/>
<line x1="278.0" y1="12.0" x2="278.0" y2="14.0" stroke="#5cb8f4" stroke-width="1.4"/>
</g>
<rect x="276.3" y="10.7" width="170.10" height="169.90" fill="none" stroke="#111" stroke-width="1.2"/>
<line x1="273.30" y1="174.60" x2="276.30" y2="174.60" stroke="#111" stroke-width="1.1"/>
<line x1="273.30" y1="138.10" x2="276.30" y2="138.10" stroke="#111" stroke-width="1.1"/>
<line x1="273.30" y1="101.60" x2="276.30" y2="101.60" stroke="#111" stroke-width="1.1"/>
<line x1="273.30" y1="65.10" x2="276.30" y2="65.10" stroke="#111" stroke-width="1.1"/>
<line x1="273.30" y1="28.60" x2="276.30" y2="28.60" stroke="#111" stroke-width="1.1"/>
<line x1="274.30" y1="180.25" x2="276.30" y2="180.25" stroke="#111" stroke-width="1.1"/>
<line x1="274.30" y1="178.14" x2="276.30" y2="178.14" stroke="#111" stroke-width="1.1"/>
<line x1="274.30" y1="176.27" x2="276.30" y2="176.27" stroke="#111" stroke-width="1.1"/>
<line x1="274.30" y1="163.61" x2="276.30" y2="163.61" stroke="#111" stroke-width="1.1"/>
<line x1="274.30" y1="157.19" x2="276.30" y2="157.19" stroke="#111" stroke-width="1.1"/>
<line x1="274.30" y1="152.62" x2="276.30" y2="152.62" stroke="#111" stroke-width="1.1"/>
<line x1="274.30" y1="149.09" x2="276.30" y2="149.09" stroke="#111" stroke-width="1.1"/>
<line x1="274.30" y1="146.20" x2="276.30" y2="146.20" stroke="#111" stroke-width="1.1"/>
<line x1="274.30" y1="143.75" x2="276.30" y2="143.75" stroke="#111" stroke-width="1.1"/>
<line x1="274.30" y1="141.64" x2="276.30" y2="141.64" stroke="#111" stroke-width="1.1"/>
<line x1="274.30" y1="139.77" x2="276.30" y2="139.77" stroke="#111" stroke-width="1.1"/>
<line x1="274.30" y1="127.11" x2="276.30" y2="127.11" stroke="#111" stroke-width="1.1"/>
<line x1="274.30" y1="120.69" x2="276.30" y2="120.69" stroke="#111" stroke-width="1.1"/>
<line x1="274.30" y1="116.12" x2="276.30" y2="116.12" stroke="#111" stroke-width="1.1"/>
<line x1="274.30" y1="112.59" x2="276.30" y2="112.59" stroke="#111" stroke-width="1.1"/>
<line x1="274.30" y1="109.70" x2="276.30" y2="109.70" stroke="#111" stroke-width="1.1"/>
<line x1="274.30" y1="107.25" x2="276.30" y2="107.25" stroke="#111" stroke-width="1.1"/>
<line x1="274.30" y1="105.14" x2="276.30" y2="105.14" stroke="#111" stroke-width="1.1"/>
<line x1="274.30" y1="103.27" x2="276.30" y2="103.27" stroke="#111" stroke-width="1.1"/>
<line x1="274.30" y1="90.61" x2="276.30" y2="90.61" stroke="#111" stroke-width="1.1"/>
<line x1="274.30" y1="84.19" x2="276.30" y2="84.19" stroke="#111" stroke-width="1.1"/>
<line x1="274.30" y1="79.62" x2="276.30" y2="79.62" stroke="#111" stroke-width="1.1"/>
<line x1="274.30" y1="76.09" x2="276.30" y2="76.09" stroke="#111" stroke-width="1.1"/>
<line x1="274.30" y1="73.20" x2="276.30" y2="73.20" stroke="#111" stroke-width="1.1"/>
<line x1="274.30" y1="70.75" x2="276.30" y2="70.75" stroke="#111" stroke-width="1.1"/>
<line x1="274.30" y1="68.64" x2="276.30" y2="68.64" stroke="#111" stroke-width="1.1"/>
<line x1="274.30" y1="66.77" x2="276.30" y2="66.77" stroke="#111" stroke-width="1.1"/>
<line x1="274.30" y1="54.11" x2="276.30" y2="54.11" stroke="#111" stroke-width="1.1"/>
<line x1="274.30" y1="47.69" x2="276.30" y2="47.69" stroke="#111" stroke-width="1.1"/>
<line x1="274.30" y1="43.12" x2="276.30" y2="43.12" stroke="#111" stroke-width="1.1"/>
<line x1="274.30" y1="39.59" x2="276.30" y2="39.59" stroke="#111" stroke-width="1.1"/>
<line x1="274.30" y1="36.70" x2="276.30" y2="36.70" stroke="#111" stroke-width="1.1"/>
<line x1="274.30" y1="34.25" x2="276.30" y2="34.25" stroke="#111" stroke-width="1.1"/>
<line x1="274.30" y1="32.14" x2="276.30" y2="32.14" stroke="#111" stroke-width="1.1"/>
<line x1="274.30" y1="30.27" x2="276.30" y2="30.27" stroke="#111" stroke-width="1.1"/>
<line x1="274.30" y1="17.61" x2="276.30" y2="17.61" stroke="#111" stroke-width="1.1"/>
<line x1="277.50" y1="180.60" x2="277.50" y2="183.60" stroke="#111" stroke-width="1.1"/>
<line x1="311.30" y1="180.60" x2="311.30" y2="183.60" stroke="#111" stroke-width="1.1"/>
<line x1="345.10" y1="180.60" x2="345.10" y2="183.60" stroke="#111" stroke-width="1.1"/>
<line x1="378.90" y1="180.60" x2="378.90" y2="183.60" stroke="#111" stroke-width="1.1"/>
<line x1="412.70" y1="180.60" x2="412.70" y2="183.60" stroke="#111" stroke-width="1.1"/>
<line x1="446.50" y1="180.60" x2="446.50" y2="183.60" stroke="#111" stroke-width="1.1"/>
<line x1="294.40" y1="180.60" x2="294.40" y2="182.60" stroke="#111" stroke-width="1.1"/>
<line x1="328.20" y1="180.60" x2="328.20" y2="182.60" stroke="#111" stroke-width="1.1"/>
<line x1="362.00" y1="180.60" x2="362.00" y2="182.60" stroke="#111" stroke-width="1.1"/>
<line x1="395.80" y1="180.60" x2="395.80" y2="182.60" stroke="#111" stroke-width="1.1"/>
<line x1="429.60" y1="180.60" x2="429.60" y2="182.60" stroke="#111" stroke-width="1.1"/>
<text x="267.0" y="178.80" font-size="10.7" text-anchor="end">10</text>
<text x="267.5" y="175.20" font-size="5.8">0</text>
<text x="267.0" y="142.30" font-size="10.7" text-anchor="end">10</text>
<text x="267.5" y="138.70" font-size="5.8">1</text>
<text x="267.0" y="105.80" font-size="10.7" text-anchor="end">10</text>
<text x="267.5" y="102.20" font-size="5.8">2</text>
<text x="267.0" y="69.30" font-size="10.7" text-anchor="end">10</text>
<text x="267.5" y="65.70" font-size="5.8">3</text>
<text x="267.0" y="32.80" font-size="10.7" text-anchor="end">10</text>
<text x="267.5" y="29.20" font-size="5.8">4</text>
<text x="277.50" y="195.10" font-size="10.7" text-anchor="middle" >0</text>
<text x="311.30" y="195.10" font-size="10.7" text-anchor="middle" >2</text>
<text x="345.10" y="195.10" font-size="10.7" text-anchor="middle" >4</text>
<text x="378.90" y="195.10" font-size="10.7" text-anchor="middle" >6</text>
<text x="412.70" y="195.10" font-size="10.7" text-anchor="middle" >8</text>
<text x="446.50" y="195.10" font-size="10.7" text-anchor="middle" >10</text>
<text x="361.50" y="208.20" font-size="10.7" text-anchor="middle" >Time (s)</text>
<text transform="translate(246.10,95.00) rotate(-90)" font-size="10.7" text-anchor="middle">Intensity (Counts)</text>
<text x="314.5" y="26.1" font-size="10.7">λ<tspan font-size="7" dy="3.6">ex</tspan><tspan dy="-3.6">=299 nm</tspan></text>
<text x="380.0" y="26.1" font-size="10.7">λ<tspan font-size="7" dy="3.6">em</tspan><tspan dy="-3.6">=444 nm</tspan></text>
<text x="287.00" y="98.60" font-size="10.9" text-anchor="start" >wt.% of 2PACz</text>
<line x1="287.7" y1="112.10" x2="303.2" y2="112.10" stroke="#1f9ff0" stroke-width="1.1"/>
<text x="309.00" y="116.10" font-size="10.7" text-anchor="start" >0.1</text>
<text x="345.0" y="116.10" font-size="10.7">τ<tspan font-size="7" dy="3.6">int</tspan><tspan dy="-3.6">=2.91 s</tspan></text>
<line x1="287.7" y1="131.15" x2="303.2" y2="131.15" stroke="#3c7fd0" stroke-width="1.1"/>
<text x="309.00" y="135.15" font-size="10.7" text-anchor="start" >0.25</text>
<text x="345.0" y="135.15" font-size="10.7">τ<tspan font-size="7" dy="3.6">int</tspan><tspan dy="-3.6">=2.93 s</tspan></text>
<line x1="287.7" y1="150.20" x2="303.2" y2="150.20" stroke="#6b4a95" stroke-width="1.1"/>
<text x="309.00" y="154.20" font-size="10.7" text-anchor="start" >0.5</text>
<text x="345.0" y="154.20" font-size="10.7">τ<tspan font-size="7" dy="3.6">int</tspan><tspan dy="-3.6">=3.05 s</tspan></text>
<line x1="287.7" y1="169.25" x2="303.2" y2="169.25" stroke="#f23c44" stroke-width="1.1"/>
<text x="309.00" y="173.25" font-size="10.7" text-anchor="start" >1</text>
<text x="345.0" y="173.25" font-size="10.7">τ<tspan font-size="7" dy="3.6">int</tspan><tspan dy="-3.6">=2.74 s</tspan></text>
<text x="239.8" y="7.9" font-size="11" font-weight="bold">b</text>
<defs>
<linearGradient id="gBar0" x1="0" y1="0" x2="0" y2="1"><stop offset="0" stop-color="#00a0ff"/><stop offset="1" stop-color="#f8fcff"/></linearGradient>
<linearGradient id="gBar1" x1="0" y1="0" x2="0" y2="1"><stop offset="0" stop-color="#3c78c8"/><stop offset="1" stop-color="#f8fafe"/></linearGradient>
<linearGradient id="gBar2" x1="0" y1="0" x2="0" y2="1"><stop offset="0" stop-color="#6b4a8a"/><stop offset="1" stop-color="#fbf9fc"/></linearGradient>
<linearGradient id="gBar3" x1="0" y1="0" x2="0" y2="1"><stop offset="0" stop-color="#ff4048"/><stop offset="1" stop-color="#fff8f8"/></linearGradient>
</defs>
<rect x="527.10" y="80.99" width="20.4" height="97.01" fill="url(#gBar0)"/>
<rect x="569.20" y="72.16" width="20.4" height="105.84" fill="url(#gBar1)"/>
<rect x="611.30" y="67.07" width="20.4" height="110.93" fill="url(#gBar2)"/>
<rect x="653.30" y="82.35" width="20.4" height="95.65" fill="url(#gBar3)"/>
<rect x="514.4" y="10.6" width="169.80" height="170.10" fill="none" stroke="#111" stroke-width="1.2"/>
<line x1="511.40" y1="180.80" x2="514.40" y2="180.80" stroke="#111" stroke-width="1.1"/>
<line x1="511.40" y1="129.88" x2="514.40" y2="129.88" stroke="#111" stroke-width="1.1"/>
<line x1="511.40" y1="78.95" x2="514.40" y2="78.95" stroke="#111" stroke-width="1.1"/>
<line x1="511.40" y1="28.03" x2="514.40" y2="28.03" stroke="#111" stroke-width="1.1"/>
<line x1="512.40" y1="155.34" x2="514.40" y2="155.34" stroke="#111" stroke-width="1.1"/>
<line x1="512.40" y1="104.41" x2="514.40" y2="104.41" stroke="#111" stroke-width="1.1"/>
<line x1="512.40" y1="53.49" x2="514.40" y2="53.49" stroke="#111" stroke-width="1.1"/>
<line x1="537.30" y1="180.70" x2="537.30" y2="183.70" stroke="#111" stroke-width="1.1"/>
<line x1="579.40" y1="180.70" x2="579.40" y2="183.70" stroke="#111" stroke-width="1.1"/>
<line x1="621.50" y1="180.70" x2="621.50" y2="183.70" stroke="#111" stroke-width="1.1"/>
<line x1="663.50" y1="180.70" x2="663.50" y2="183.70" stroke="#111" stroke-width="1.1"/>
<text x="508.70" y="184.50" font-size="10.7" text-anchor="end" >0</text>
<text x="508.70" y="133.57" font-size="10.7" text-anchor="end" >15</text>
<text x="508.70" y="82.65" font-size="10.7" text-anchor="end" >30</text>
<text x="508.70" y="31.73" font-size="10.7" text-anchor="end" >45</text>
<text x="537.30" y="195.10" font-size="10.7" text-anchor="middle" >0.1</text>
<text x="579.40" y="195.10" font-size="10.7" text-anchor="middle" >0.25</text>
<text x="621.50" y="195.10" font-size="10.7" text-anchor="middle" >0.5</text>
<text x="663.50" y="195.10" font-size="10.7" text-anchor="middle" >1</text>
<text x="599.30" y="208.20" font-size="10.7" text-anchor="middle" >Doping concentration (wt.%)</text>
<text transform="translate(484.2,95.4) rotate(-90)" font-size="10.7" text-anchor="middle">Φ<tspan font-size="7" dy="3.6">SSPL</tspan><tspan dy="-3.6"> (%)</tspan></text>
<text x="522.00" y="26.20" font-size="11.1" text-anchor="start" >2PACz@PVA</text>
<text x="624.8" y="26.1" font-size="10.7">λ<tspan font-size="7" dy="3.6">ex</tspan><tspan dy="-3.6">=299 nm</tspan></text>
<text x="478.6" y="7.9" font-size="11" font-weight="bold">c</text>
<rect x="37.5" y="230.8" width="169.70" height="169.50" fill="none" stroke="#111" stroke-width="1.2"/>
<line x1="34.50" y1="400.30" x2="37.50" y2="400.30" stroke="#111" stroke-width="1.1"/>
<line x1="34.50" y1="332.10" x2="37.50" y2="332.10" stroke="#111" stroke-width="1.1"/>
<line x1="34.50" y1="263.90" x2="37.50" y2="263.90" stroke="#111" stroke-width="1.1"/>
<line x1="35.50" y1="366.20" x2="37.50" y2="366.20" stroke="#111" stroke-width="1.1"/>
<line x1="35.50" y1="298.00" x2="37.50" y2="298.00" stroke="#111" stroke-width="1.1"/>
<line x1="60.40" y1="400.30" x2="60.40" y2="403.30" stroke="#111" stroke-width="1.1"/>
<line x1="102.40" y1="400.30" x2="102.40" y2="403.30" stroke="#111" stroke-width="1.1"/>
<line x1="144.30" y1="400.30" x2="144.30" y2="403.30" stroke="#111" stroke-width="1.1"/>
<line x1="186.30" y1="400.30" x2="186.30" y2="403.30" stroke="#111" stroke-width="1.1"/>
<text x="31.50" y="404.60" font-size="10.7" text-anchor="end" >60</text>
<text x="31.50" y="336.40" font-size="10.7" text-anchor="end" >80</text>
<text x="31.50" y="268.20" font-size="10.7" text-anchor="end" >100</text>
<text x="60.40" y="415.80" font-size="10.7" text-anchor="middle" >0.1</text>
<text x="102.40" y="415.80" font-size="10.7" text-anchor="middle" >0.25</text>
<text x="144.30" y="415.80" font-size="10.7" text-anchor="middle" >0.5</text>
<text x="186.30" y="415.80" font-size="10.7" text-anchor="middle" >1</text>
<text x="122.40" y="428.40" font-size="10.7" text-anchor="middle" >Doping concentration (wt.%)</text>
<text transform="translate(7.70,316.30) rotate(-90)" font-size="10.7" text-anchor="middle">Figure of merit</text>
<text x="1.5" y="227.8" font-size="11" font-weight="bold">d</text>
<defs><radialGradient id="gMk"><stop offset="0" stop-color="#fde6ea"/><stop offset="1" stop-color="#f27d8c"/></radialGradient></defs>
<path d="M60.4,314.6 C74.43,305.90 88.47,296.50 102.5,286.4 C116.57,275.15 130.63,262.91 144.7,260.1 C158.63,261.49 172.57,293.31 186.5,337.9" fill="none" stroke="#f0404e" stroke-width="1.2" stroke-dasharray="4,2.6"/>
<circle cx="60.4" cy="314.60" r="3.0" fill="url(#gMk)" stroke="#e62c46" stroke-width="1.35"/>
<circle cx="102.5" cy="286.40" r="3.0" fill="url(#gMk)" stroke="#e62c46" stroke-width="1.35"/>
<circle cx="144.7" cy="260.10" r="3.0" fill="url(#gMk)" stroke="#e62c46" stroke-width="1.35"/>
<circle cx="186.5" cy="337.90" r="3.0" fill="url(#gMk)" stroke="#e62c46" stroke-width="1.35"/>
<defs><clipPath id="clipE"><rect x="276.2" y="230.6" width="170.4" height="169.9"/></clipPath>
<filter id="blurE" filterUnits="userSpaceOnUse" x="280" y="240" width="140" height="170"><feGaussianBlur stdDeviation="1.45 2.2"/></filter>
<linearGradient id="gExt" x1="0" y1="0" x2="1" y2="0"><stop offset="0" stop-color="#ff3a46" stop-opacity="1"/><stop offset="1" stop-color="#ff3a46" stop-opacity="0"/></linearGradient></defs>
<rect x="276.2" y="230.6" width="170.40" height="169.90" fill="#0395fd"/>
<g clip-path="url(#clipE)"><g filter="url(#blurE)">
<rect x="316.7" y="259.00" width="3.80" height="81.00" fill="#ff3a46" opacity="0.62"/>
<rect x="316.7" y="340.00" width="3.80" height="56.00" fill="#ff3a46" opacity="0.30"/>
<rect x="320.5" y="259.00" width="5.10" height="81.00" fill="#ff3a46" opacity="0.30"/>
<rect x="320.5" y="340.00" width="5.10" height="56.00" fill="#ff3a46" opacity="0.08"/>
<rect x="325.6" y="259.00" width="9.80" height="81.00" fill="#ff3a46" opacity="0.55"/>
<rect x="325.6" y="340.00" width="9.80" height="56.00" fill="#ff3a46" opacity="0.18"/>
<rect x="335.4" y="259.00" width="1.60" height="81.00" fill="#ff3a46" opacity="0.40"/>
<rect x="335.4" y="340.00" width="1.60" height="56.00" fill="#ff3a46" opacity="0.10"/>
<rect x="337.0" y="259.00" width="11.00" height="86.00" fill="#ff3a46" opacity="0.42"/>
<rect x="337.0" y="345.00" width="11.00" height="51.00" fill="#ff3a46" opacity="0.10"/>
<rect x="348" y="259.00" width="20.00" height="82.00" fill="url(#gExt)" opacity="0.35"/>
<rect x="348" y="341.00" width="14.00" height="55.00" fill="url(#gExt)" opacity="0.08"/>
<ellipse cx="318.6" cy="267" rx="2.4" ry="7.50" fill="#ff3a46" opacity="1.00"/>
<ellipse cx="330.6" cy="267" rx="5.4" ry="8.50" fill="#ff3a46" opacity="1.00"/>
<ellipse cx="330.6" cy="284" rx="4.2" ry="10.00" fill="#ff3a46" opacity="0.78"/>
<ellipse cx="342.3" cy="267" rx="6.2" ry="7.50" fill="#ff3a46" opacity="0.50"/>
<rect x="337" y="261.00" width="11.00" height="12.00" fill="#ff3a46" opacity="0.25"/>
<rect x="348" y="261.00" width="14.00" height="12.00" fill="url(#gExt)" opacity="0.30"/>
<rect x="320.5" y="315.60" width="28.50" height="5.80" fill="#ff3a46" opacity="0.50"/>
<ellipse cx="318.6" cy="318.5" rx="2.4" ry="4.50" fill="#ff3a46" opacity="1.00"/>
<ellipse cx="330" cy="318.5" rx="6.2" ry="4.80" fill="#ff3a46" opacity="1.00"/>
<ellipse cx="342.5" cy="318.5" rx="6.5" ry="3.80" fill="#ff3a46" opacity="0.90"/>
<rect x="348" y="315.50" width="14.00" height="6.00" fill="url(#gExt)" opacity="0.50"/>
<ellipse cx="330.3" cy="327.5" rx="5.0" ry="7.50" fill="#ff3a46" opacity="1.00"/>
<ellipse cx="318.6" cy="328" rx="2.2" ry="4.50" fill="#ff3a46" opacity="0.60"/>
<ellipse cx="342.3" cy="329.5" rx="6" ry="3.80" fill="#ff3a46" opacity="0.72"/>
<rect x="348" y="327.00" width="12.00" height="5.00" fill="url(#gExt)" opacity="0.25"/>
<ellipse cx="330.5" cy="346" rx="4.5" ry="6.00" fill="#ff3a46" opacity="0.50"/>
<ellipse cx="318.6" cy="346" rx="1.8" ry="4.00" fill="#ff3a46" opacity="0.30"/>
<ellipse cx="318.6" cy="344.5" rx="2.2" ry="2.20" fill="#ff3a46" opacity="0.30"/>
<ellipse cx="330.6" cy="344.5" rx="5.6" ry="2.20" fill="#ff3a46" opacity="0.45"/>
<rect x="337" y="342.96" width="11.00" height="3.08" fill="#ff3a46" opacity="0.25"/>
<rect x="348" y="342.96" width="14.00" height="3.08" fill="url(#gExt)" opacity="0.17"/>
<ellipse cx="318.6" cy="357.7" rx="2.2" ry="2.50" fill="#ff3a46" opacity="0.65"/>
<ellipse cx="330.6" cy="357.7" rx="5.6" ry="2.50" fill="#ff3a46" opacity="0.80"/>
<rect x="337" y="355.95" width="11.00" height="3.50" fill="#ff3a46" opacity="0.50"/>
<rect x="348" y="355.95" width="14.00" height="3.50" fill="url(#gExt)" opacity="0.35"/>
<ellipse cx="318.6" cy="371.6" rx="2.2" ry="2.70" fill="#ff3a46" opacity="0.60"/>
<ellipse cx="330.6" cy="371.6" rx="5.6" ry="2.70" fill="#ff3a46" opacity="0.80"/>
<rect x="337" y="369.71" width="11.00" height="3.78" fill="#ff3a46" opacity="0.50"/>
<rect x="348" y="369.71" width="14.00" height="3.78" fill="url(#gExt)" opacity="0.35"/>
<ellipse cx="318.6" cy="376.6" rx="2.2" ry="2.00" fill="#ff3a46" opacity="0.30"/>
<ellipse cx="330.6" cy="376.6" rx="5.6" ry="2.00" fill="#ff3a46" opacity="0.45"/>
<rect x="337" y="375.20" width="11.00" height="2.80" fill="#ff3a46" opacity="0.25"/>
<rect x="348" y="375.20" width="14.00" height="2.80" fill="url(#gExt)" opacity="0.17"/>
<ellipse cx="318.6" cy="390.5" rx="2.2" ry="2.60" fill="#ff3a46" opacity="0.50"/>
<ellipse cx="330.6" cy="390.5" rx="5.6" ry="2.60" fill="#ff3a46" opacity="0.65"/>
<rect x="337" y="388.68" width="11.00" height="3.64" fill="#ff3a46" opacity="0.35"/>
<rect x="348" y="388.68" width="14.00" height="3.64" fill="url(#gExt)" opacity="0.24"/>
</g></g>
<rect x="276.2" y="230.6" width="170.40" height="169.90" fill="none" stroke="#111" stroke-width="1.2"/>
<line x1="273.20" y1="368.40" x2="276.20" y2="368.40" stroke="#111" stroke-width="1.1"/>
<line x1="273.20" y1="315.70" x2="276.20" y2="315.70" stroke="#111" stroke-width="1.1"/>
<line x1="273.20" y1="263.00" x2="276.20" y2="263.00" stroke="#111" stroke-width="1.1"/>
<line x1="274.20" y1="394.75" x2="276.20" y2="394.75" stroke="#111" stroke-width="1.1"/>
<line x1="274.20" y1="342.05" x2="276.20" y2="342.05" stroke="#111" stroke-width="1.1"/>
<line x1="274.20" y1="289.35" x2="276.20" y2="289.35" stroke="#111" stroke-width="1.1"/>
<line x1="274.20" y1="236.65" x2="276.20" y2="236.65" stroke="#111" stroke-width="1.1"/>
<line x1="289.70" y1="400.50" x2="289.70" y2="403.50" stroke="#111" stroke-width="1.1"/>
<line x1="334.20" y1="400.50" x2="334.20" y2="403.50" stroke="#111" stroke-width="1.1"/>
<line x1="378.70" y1="400.50" x2="378.70" y2="403.50" stroke="#111" stroke-width="1.1"/>
<line x1="423.20" y1="400.50" x2="423.20" y2="403.50" stroke="#111" stroke-width="1.1"/>
<line x1="311.95" y1="400.50" x2="311.95" y2="402.50" stroke="#111" stroke-width="1.1"/>
<line x1="356.45" y1="400.50" x2="356.45" y2="402.50" stroke="#111" stroke-width="1.1"/>
<line x1="400.95" y1="400.50" x2="400.95" y2="402.50" stroke="#111" stroke-width="1.1"/>
<line x1="445.45" y1="400.50" x2="445.45" y2="402.50" stroke="#111" stroke-width="1.1"/>
<text x="270.60" y="372.10" font-size="10.7" text-anchor="end" >250</text>
<text x="270.60" y="319.40" font-size="10.7" text-anchor="end" >300</text>
<text x="270.60" y="266.70" font-size="10.7" text-anchor="end" >350</text>
<text x="289.70" y="415.80" font-size="10.7" text-anchor="middle" >350</text>
<text x="334.20" y="415.80" font-size="10.7" text-anchor="middle" >450</text>
<text x="378.70" y="415.80" font-size="10.7" text-anchor="middle" >550</text>
<text x="423.20" y="415.80" font-size="10.7" text-anchor="middle" >650</text>
<text x="361.40" y="428.40" font-size="10.7" text-anchor="middle" >Em. Wavelength (nm)</text>
<text transform="translate(246.10,315.50) rotate(-90)" font-size="10.7" text-anchor="middle">Ex. Wavelength (nm)</text>
<text x="240.4" y="228.2" font-size="11" font-weight="bold">e</text>
<defs><linearGradient id="gFtop" gradientUnits="userSpaceOnUse" x1="514" y1="0" x2="685" y2="0"><stop offset="0.0000" stop-color="#0395fd"/><stop offset="0.1813" stop-color="#0395fd"/><stop offset="0.2047" stop-color="#1496f6"/><stop offset="0.2199" stop-color="#3090e4"/><stop offset="0.2281" stop-color="#5a84c8"/><stop offset="0.2427" stop-color="#7280b8"/><stop offset="0.3041" stop-color="#8870a0"/><stop offset="0.3743" stop-color="#8070a6"/><stop offset="0.4561" stop-color="#7078b4"/><stop offset="0.5322" stop-color="#5586d0"/><stop offset="0.5906" stop-color="#3a8ee0"/><stop offset="0.6667" stop-color="#1a92f0"/><stop offset="0.7368" stop-color="#0395fd"/><stop offset="1.0000" stop-color="#0395fd"/></linearGradient><linearGradient id="gFbot" gradientUnits="userSpaceOnUse" x1="514" y1="0" x2="685" y2="0"><stop offset="0.0000" stop-color="#0395fd"/><stop offset="0.1696" stop-color="#0896fb"/><stop offset="0.2047" stop-color="#2a9aee"/><stop offset="0.2193" stop-color="#6a80b8"/><stop offset="0.2339" stop-color="#b45a7c"/><stop offset="0.2690" stop-color="#cc5066"/><stop offset="0.3158" stop-color="#da4858"/><stop offset="0.3860" stop-color="#cc5268"/><stop offset="0.4561" stop-color="#b0607a"/><stop offset="0.5322" stop-color="#9a6890"/><stop offset="0.5906" stop-color="#7a74a8"/><stop offset="0.6491" stop-color="#4e8ad6"/><stop offset="0.7251" stop-color="#1c92f2"/><stop offset="0.8070" stop-color="#0395fd"/><stop offset="1.0000" stop-color="#0395fd"/></linearGradient>
<linearGradient id="gFmask" x1="0" y1="0" x2="0" y2="1"><stop offset="0" stop-color="#000"/><stop offset="0.5" stop-color="#555"/><stop offset="0.8" stop-color="#b8b8b8"/><stop offset="1" stop-color="#fff"/></linearGradient>
<mask id="mF" maskUnits="userSpaceOnUse" x="514" y="231" width="171" height="170"><rect x="514" y="231" width="171" height="170" fill="url(#gFmask)"/></mask></defs>
<rect x="514.3" y="230.8" width="169.90" height="169.40" fill="url(#gFtop)"/>
<rect x="514.3" y="230.8" width="169.90" height="169.40" fill="url(#gFbot)" mask="url(#mF)"/>
<rect x="514.3" y="230.8" width="169.90" height="169.40" fill="none" stroke="#111" stroke-width="1.2"/>
<line x1="511.30" y1="400.30" x2="514.30" y2="400.30" stroke="#111" stroke-width="1.1"/>
<line x1="511.30" y1="315.55" x2="514.30" y2="315.55" stroke="#111" stroke-width="1.1"/>
<line x1="511.30" y1="230.80" x2="514.30" y2="230.80" stroke="#111" stroke-width="1.1"/>
<line x1="512.30" y1="357.93" x2="514.30" y2="357.93" stroke="#111" stroke-width="1.1"/>
<line x1="512.30" y1="273.18" x2="514.30" y2="273.18" stroke="#111" stroke-width="1.1"/>
<line x1="527.60" y1="400.20" x2="527.60" y2="403.20" stroke="#111" stroke-width="1.1"/>
<line x1="572.30" y1="400.20" x2="572.30" y2="403.20" stroke="#111" stroke-width="1.1"/>
<line x1="617.00" y1="400.20" x2="617.00" y2="403.20" stroke="#111" stroke-width="1.1"/>
<line x1="661.70" y1="400.20" x2="661.70" y2="403.20" stroke="#111" stroke-width="1.1"/>
<line x1="549.95" y1="400.20" x2="549.95" y2="402.20" stroke="#111" stroke-width="1.1"/>
<line x1="594.65" y1="400.20" x2="594.65" y2="402.20" stroke="#111" stroke-width="1.1"/>
<line x1="639.35" y1="400.20" x2="639.35" y2="402.20" stroke="#111" stroke-width="1.1"/>
<line x1="684.05" y1="400.20" x2="684.05" y2="402.20" stroke="#111" stroke-width="1.1"/>
<text x="508.70" y="404.00" font-size="10.7" text-anchor="end" >0</text>
<text x="508.70" y="319.25" font-size="10.7" text-anchor="end" >5</text>
<text x="508.70" y="234.50" font-size="10.7" text-anchor="end" >10</text>
<text x="527.60" y="415.80" font-size="10.7" text-anchor="middle" >350</text>
<text x="572.30" y="415.80" font-size="10.7" text-anchor="middle" >450</text>
<text x="617.00" y="415.80" font-size="10.7" text-anchor="middle" >550</text>
<text x="661.70" y="415.80" font-size="10.7" text-anchor="middle" >650</text>
<text x="599.30" y="428.40" font-size="10.7" text-anchor="middle" >Wavelength (nm)</text>
<text transform="translate(484.50,315.50) rotate(-90)" font-size="10.7" text-anchor="middle">Time (s)</text>
<text x="480.6" y="227.9" font-size="11" font-weight="bold">f</text>
</svg>
</body></html>
